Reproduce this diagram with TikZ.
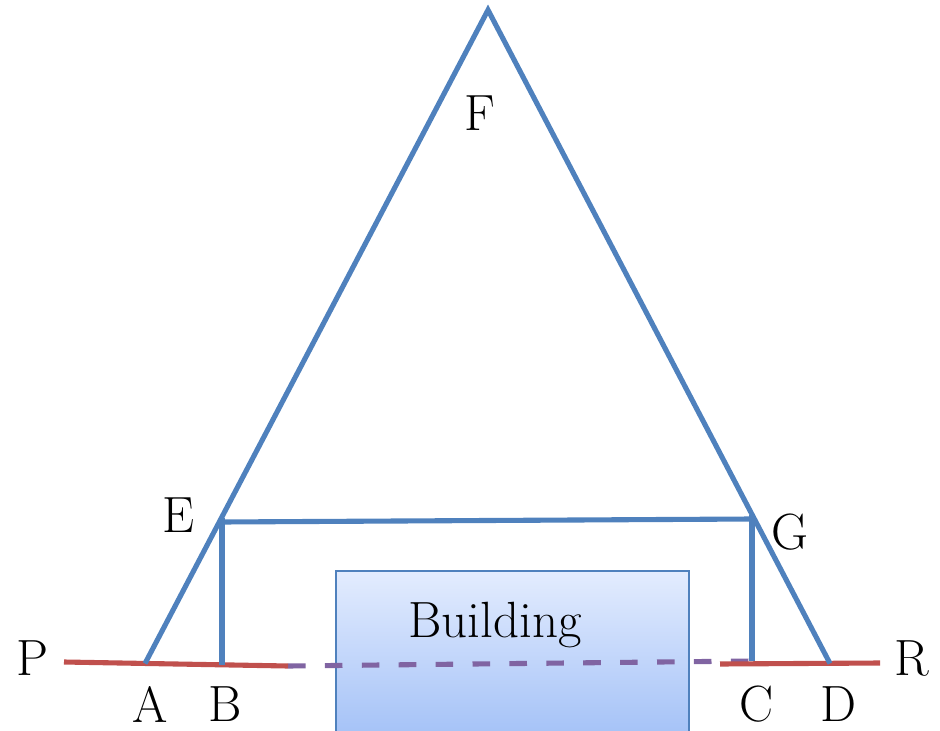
\documentclass[tikz,border=0pt]{standalone}
\usepackage{tikz}
\usepackage{xcolor}
\definecolor{trussblue}{HTML}{4F81BD}
\definecolor{groundred}{HTML}{C0504D}
\definecolor{pathpurple}{HTML}{8064A2}
\definecolor{bldtop}{HTML}{E3ECFE}
\definecolor{bldbot}{HTML}{A3C1F7}

\tikzset{
  truss/.style={trussblue, line width=2.9pt},
  ground/.style={groundred, line width=2.9pt},
  hidden/.style={pathpurple, line width=2.9pt, dash pattern=on 10pt off 11pt},
  lbl/.style={font=\fontsize{29}{34}\selectfont, inner sep=0pt}
}

\begin{document}
\begin{tikzpicture}
  \useasboundingbox (0,0) rectangle (18.8,14.6);
  % points of the frame
  \coordinate (F) at (9.76,14.4);
  \coordinate (A) at (2.9,1.33);
  \coordinate (D) at (16.6,1.33);
  \coordinate (E) at (4.44,4.24);
  \coordinate (G) at (15.04,4.30);
  \coordinate (B) at (4.44,1.305);
  \coordinate (C) at (15.04,1.38);
  \coordinate (P) at (1.28,1.36);
  \coordinate (Bend) at (5.76,1.28);
  \coordinate (Cstart) at (14.4,1.32);
  \coordinate (R) at (17.6,1.34);
  % building
  \shade[top color=bldtop, bottom color=bldbot] (6.72,-0.2) rectangle (13.78,3.18);
  \draw[trussblue, line width=0.8pt] (6.72,-0.2) rectangle (13.78,3.18);
  \node[lbl] (bld) at (9.9,2.1) {Building};
  % ground and hidden part
  \draw[hidden] (Bend) -- (C);
  \draw[ground] (P) -- (Bend);
  \draw[ground] (Cstart) -- (R);
  % triangle and legs
  \draw[truss, line join=miter] (A) -- (F) -- (D);
  \draw[truss] (E) -- (B);
  \draw[truss] (G) -- (C);
  \draw[truss] ([yshift=-0.08cm]E) -- ([yshift=-0.08cm]G);
  % letters
  \node[lbl] (lF) at (9.6,12.34) {F};
  \node[lbl] (lE) at (3.56,4.3) {E};
  \node[lbl] (lG) at (15.8,3.96) {G};
  \node[lbl] (lP) at (0.66,1.44) {P};
  \node[lbl] (lR) at (18.24,1.44) {R};
  \node[lbl] (lA) at (3.0,0.52) {A};
  \node[lbl] (lB) at (4.5,0.52) {B};
  \node[lbl] (lC) at (15.14,0.52) {C};
  \node[lbl] (lD) at (16.76,0.52) {D};
\end{tikzpicture}
\end{document}
